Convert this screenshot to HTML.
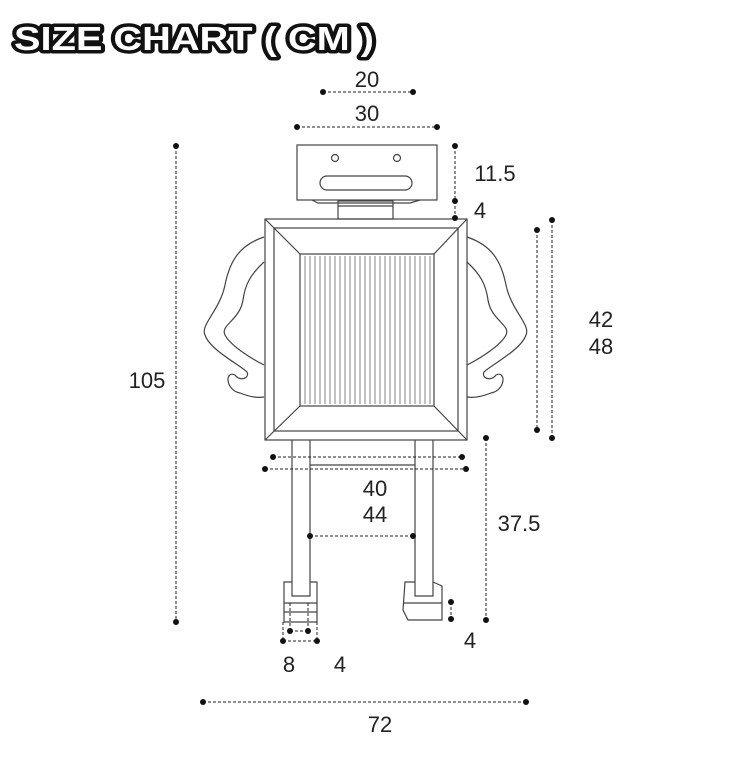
<!DOCTYPE html>
<html><head><meta charset="utf-8"><style>
html,body{margin:0;padding:0;background:#fff;}
svg{display:block;}
text{font-family:"Liberation Sans",sans-serif;}
</style></head><body>
<svg width="749" height="759" viewBox="0 0 749 759" xmlns="http://www.w3.org/2000/svg">
<rect width="749" height="759" fill="#fff"/>
<text x="14" y="50" font-size="33" font-weight="bold" textLength="360" lengthAdjust="spacingAndGlyphs" fill="#fff" stroke="#111" stroke-width="7" stroke-linejoin="round" paint-order="stroke">SIZE CHART ( CM )</text>

<g fill="none" stroke="#444" stroke-width="1.2">
<rect x="297" y="145" width="140" height="55"/>
<circle cx="335" cy="158" r="3.5"/><circle cx="397" cy="158" r="3.5"/>
<rect x="320" y="176" width="92" height="14" rx="7"/>
<path d="M312,200 L318,203 L410,203 L420,200"/>
<rect x="338" y="201" width="55" height="18"/>
<line x1="338" y1="206" x2="393" y2="206"/>
<rect x="265" y="219" width="202" height="221"/>
<rect x="274" y="228" width="184" height="203"/>
<rect x="300" y="254" width="134" height="152"/>
<line x1="265" y1="219" x2="300" y2="254"/><line x1="467" y1="219" x2="434" y2="254"/>
<line x1="265" y1="440" x2="300" y2="406"/><line x1="467" y1="440" x2="434" y2="406"/>
<path d="M264,237 C240,245 230,260 225,285 C220,310 200,325 205,335 C210,350 240,365 247,372 C250,378 240,382 235,375 C225,370 225,390 240,393 C250,397 258,398 264,397"/>
<path d="M264,262 C250,275 245,285 243,300 C240,320 220,325 225,335 C230,345 250,358 264,365"/>
<path d="M467,237 C491,245 501,260 506,285 C511,310 531,325 526,335 C521,350 491,365 484,372 C481,378 491,382 496,375 C506,370 506,390 491,393 C481,397 473,398 467,397"/>
<path d="M467,262 C481,275 486,285 488,300 C491,320 511,325 506,335 C501,345 481,358 467,365"/>
<path d="M292,440 L292,596 L310,596 L310,440"/>
<path d="M415,440 L415,596 L433,596 L433,440"/>
<line x1="310" y1="465" x2="415" y2="465"/>
<path d="M292,582 L284,582 L284,622 L317,622 L317,582 L310,582"/>
<line x1="284" y1="603" x2="317" y2="603"/><line x1="284" y1="612" x2="317" y2="612"/>
<path d="M415,582 L405,582 L403,610 L408,620 L442,620 L442,586 L433,582"/>
<line x1="404" y1="603" x2="442" y2="603"/>
</g>
<g stroke="#666" stroke-width="0.8">
<path d="M305,256V404M310,256V404M315,256V404M320,256V404M325,256V404M330,256V404M335,256V404M340,256V404M345,256V404M350,256V404M355,256V404M360,256V404M365,256V404M370,256V404M375,256V404M380,256V404M385,256V404M390,256V404M395,256V404M400,256V404M405,256V404M410,256V404M415,256V404M420,256V404M425,256V404M430,256V404"/>
</g>

<g stroke="#222" stroke-width="1" stroke-dasharray="3,2" fill="none">
<line x1="323" y1="92" x2="413" y2="92"/>
<line x1="297" y1="127" x2="437" y2="127"/>
<line x1="176" y1="146" x2="176" y2="622"/>
<line x1="455" y1="146" x2="455" y2="218"/>
<line x1="537" y1="230" x2="537" y2="430"/>
<line x1="552" y1="220" x2="552" y2="438"/>
<line x1="273" y1="457" x2="462" y2="457"/>
<line x1="265" y1="469" x2="466" y2="469"/>
<line x1="310" y1="536" x2="413" y2="536"/>
<line x1="486" y1="438" x2="486" y2="620"/>
<line x1="451" y1="602" x2="451" y2="619"/>
<line x1="290" y1="631" x2="308" y2="631"/>
<line x1="283" y1="641" x2="317" y2="641"/>
<line x1="283" y1="622" x2="283" y2="641"/><line x1="317" y1="622" x2="317" y2="641"/>
<line x1="290" y1="603" x2="290" y2="631"/><line x1="308" y1="603" x2="308" y2="631"/>
<line x1="203" y1="702" x2="526" y2="702"/>
</g>
<g fill="#111">
<circle cx="323" cy="92" r="3"/><circle cx="413" cy="92" r="3"/>
<circle cx="297" cy="127" r="3"/><circle cx="437" cy="127" r="3"/>
<circle cx="176" cy="146" r="3"/><circle cx="176" cy="622" r="3"/>
<circle cx="455" cy="146" r="3"/><circle cx="455" cy="201" r="3"/><circle cx="455" cy="218" r="3"/>
<circle cx="537" cy="230" r="3"/><circle cx="537" cy="430" r="3"/>
<circle cx="552" cy="220" r="3"/><circle cx="552" cy="438" r="3"/>
<circle cx="273" cy="457" r="3"/><circle cx="462" cy="457" r="3"/>
<circle cx="265" cy="469" r="3"/><circle cx="466" cy="469" r="3"/>
<circle cx="310" cy="536" r="3"/><circle cx="413" cy="536" r="3"/>
<circle cx="486" cy="438" r="3"/><circle cx="486" cy="620" r="3"/>
<circle cx="451" cy="602" r="3"/><circle cx="451" cy="619" r="3"/>
<circle cx="290" cy="631" r="3"/><circle cx="308" cy="631" r="3"/>
<circle cx="283" cy="641" r="3"/><circle cx="317" cy="641" r="3"/>
<circle cx="203" cy="702" r="3"/><circle cx="526" cy="702" r="3"/>
</g>
<g font-size="22" fill="#222" text-anchor="middle">
<text x="367" y="87">20</text>
<text x="367" y="121">30</text>
<text x="147" y="388">105</text>
<text x="495" y="181">11.5</text>
<text x="480" y="218">4</text>
<text x="601" y="327">42</text>
<text x="601" y="354">48</text>
<text x="375" y="496">40</text>
<text x="375" y="522">44</text>
<text x="519" y="531">37.5</text>
<text x="470" y="648">4</text>
<text x="289" y="672">8</text>
<text x="340" y="672">4</text>
<text x="380" y="732">72</text>
</g>
</svg>
</body></html>
